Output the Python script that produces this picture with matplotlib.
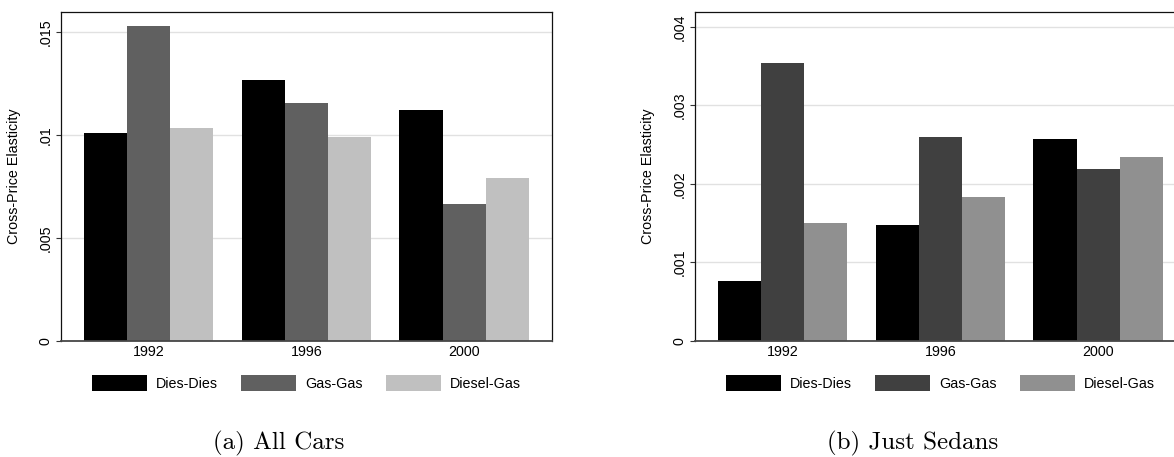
import numpy as np
import matplotlib
matplotlib.use("Agg")
import matplotlib.pyplot as plt

# Cross-price elasticities by model year
years = ["1992", "1996", "2000"]
series = ["Dies-Dies", "Gas-Gas", "Diesel-Gas"]

all_cars_dies_dies = [0.01009, 0.01268, 0.01122]
all_cars_gas_gas = [0.01531, 0.01155, 0.00664]
all_cars_diesel_gas = [0.01036, 0.00993, 0.00790]

sedans_dies_dies = [0.00076, 0.001474, 0.002573]
sedans_gas_gas = [0.003537, 0.002595, 0.002196]
sedans_diesel_gas = [0.00150, 0.001834, 0.002349]

all_cars_ticks = [0, 0.005, 0.01, 0.015]
all_cars_ticklabels = ["0", ".005", ".01", ".015"]
sedans_ticks = [0, 0.001, 0.002, 0.003, 0.004]
sedans_ticklabels = ["0", ".001", ".002", ".003", ".004"]

captions = ["(a) All Cars", "(b) Just Sedans"]

plt.rcParams["font.family"] = ["Liberation Sans", "DejaVu Sans"]

W, H = 1174, 457
fig = plt.figure(figsize=(W / 100, H / 100), dpi=100)

FS = 10.3
BAR_W = 0.273
MARGIN = 0.146


def px_axes(x0, y_top, width, y_bot):
    return fig.add_axes([x0 / W, 1 - y_bot / H, width / W, (y_bot - y_top) / H])


def draw_panel(ax, data, colors, ticks, ticklabels, ymax):
    x = np.arange(len(years))
    for i, (vals, col, name) in enumerate(zip(data, colors, series)):
        ax.bar(x + (i - 1) * BAR_W, vals, width=BAR_W, color=col,
               label=name, zorder=3, linewidth=0)
    ax.set_xlim(-1.5 * BAR_W - MARGIN, len(years) - 1 + 1.5 * BAR_W + MARGIN)
    ax.set_ylim(0, ymax)
    ax.set_xticks(x)
    ax.set_xticklabels(years, fontsize=FS)
    ax.set_yticks(ticks)
    ax.set_yticklabels(ticklabels, fontsize=FS, rotation=90, va="center")
    ax.tick_params(axis="x", length=0, pad=3.2)
    ax.tick_params(axis="y", length=3.6, width=0.8, pad=2.6, color="#333333")
    for t in ticks[1:]:
        ax.axhline(t, color="#e1e1e1", lw=1.0, zorder=1)
    for side in ("left", "top", "right"):
        ax.spines[side].set_color("#111111")
        ax.spines[side].set_linewidth(0.9)
    ax.spines["bottom"].set_color("#474747")
    ax.spines["bottom"].set_linewidth(1.3)
    ax.spines["bottom"].set_zorder(4)
    ax.set_ylabel("Cross-Price Elasticity", fontsize=FS)
    ax.yaxis.set_label_coords(-0.082, 0.5)
    ax.legend(loc="center", bbox_to_anchor=(0.5, -0.128), ncol=3,
              frameon=False, fontsize=FS, handlelength=3.87,
              handleheight=1.30, handletextpad=0.61, columnspacing=1.64,
              borderpad=0, borderaxespad=0)


ax1 = px_axes(61, 12, 490.7, 341)
draw_panel(ax1, [all_cars_dies_dies, all_cars_gas_gas, all_cars_diesel_gas],
           ["#000000", "#606060", "#c0c0c0"],
           all_cars_ticks, all_cars_ticklabels, 0.01599)

ax2 = px_axes(695, 12, 490.7, 341)
draw_panel(ax2, [sedans_dies_dies, sedans_gas_gas, sedans_diesel_gas],
           ["#000000", "#404040", "#909090"],
           sedans_ticks, sedans_ticklabels, 0.00419)

fig.text(279 / W, 1 - 449 / H, captions[0], ha="center", va="baseline",
         fontsize=18, family="cmr10")
fig.text(913 / W, 1 - 449 / H, captions[1], ha="center", va="baseline",
         fontsize=18, family="cmr10")

fig.savefig("out.png", dpi=100)
